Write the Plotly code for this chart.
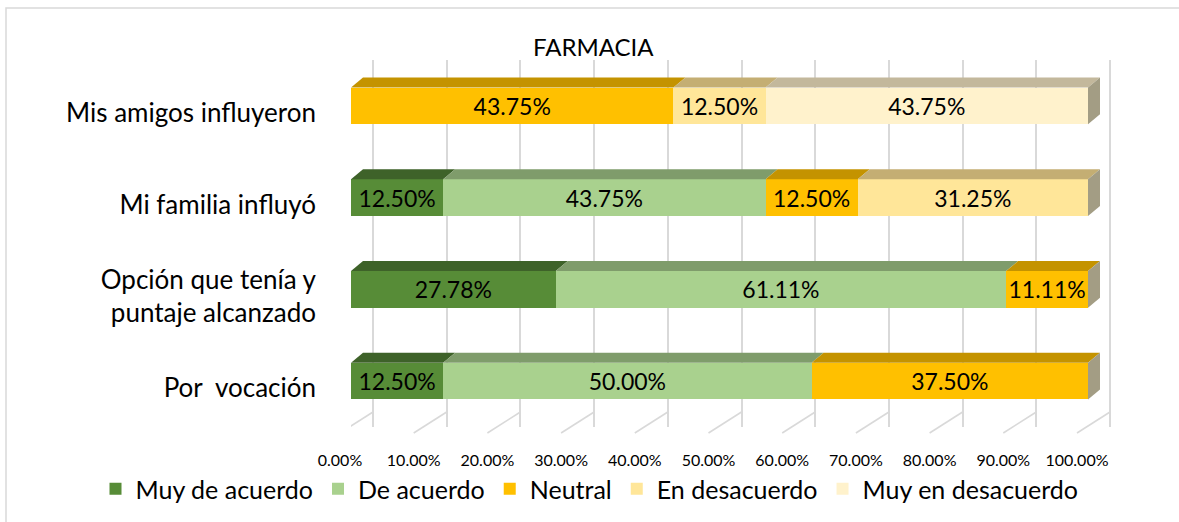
import plotly.graph_objects as go

# ---------------- data ----------------
categories = ["Por  vocación", "Opción que tenía y<br>puntaje alcanzado", "Mi familia influyó", "Mis amigos influyeron"]
series_names = ["Muy de acuerdo", "De acuerdo", "Neutral", "En desacuerdo", "Muy en desacuerdo"]
muy_de_acuerdo = [12.50, 27.78, 12.50, 0.0]
de_acuerdo = [50.00, 61.11, 43.75, 0.0]
neutral = [37.50, 11.11, 12.50, 43.75]
en_desacuerdo = [0.0, 0.0, 31.25, 12.50]
muy_en_desacuerdo = [0.0, 0.0, 0.0, 43.75]
tick_values = [0, 10, 20, 30, 40, 50, 60, 70, 80, 90, 100]
tick_labels = ["0.00%", "10.00%", "20.00%", "30.00%", "40.00%", "50.00%",
               "60.00%", "70.00%", "80.00%", "90.00%", "100.00%"]
title_text = "FARMACIA"

# ---------------- style ----------------
front_colors = ["#578c37", "#a9d18e", "#ffc000", "#ffe699", "#fff2cc"]
top_colors = ["#3e6229", "#7f9c6b", "#c49300", "#c4ae73", "#c3b89c"]
side_color = "#a39d84"
FONT = "Lato"

W, H = 1179, 522
x_left_px, x_right_px = 351, 1088
px_per_unit = (x_right_px - x_left_px) / 100.0
extra_units = 6
dom_right_px = x_right_px + extra_units * px_per_unit
plot_top_px, plot_bot_px = 60, 427
bar_w = 0.4
depth_x = 12 / px_per_unit           # top-face depth in data units
cat_px = (plot_bot_px - plot_top_px) / 4.0
depth_y = 10 / cat_px

all_series = [muy_de_acuerdo, de_acuerdo, neutral, en_desacuerdo, muy_en_desacuerdo]
ypos = list(range(len(categories)))

fig = go.Figure()

# 3D top faces (derived from the cumulative data)
cum = [0.0] * len(categories)
for s, vals in enumerate(all_series):
    for i, v in enumerate(vals):
        if v <= 0:
            continue
        x0, x1 = cum[i], cum[i] + v
        yb = ypos[i] + bar_w / 2
        fig.add_trace(go.Scatter(
            x=[x0, x1, x1 + depth_x, x0 + depth_x, x0],
            y=[yb, yb, yb + depth_y, yb + depth_y, yb],
            fill="toself", fillcolor=top_colors[s], mode="lines",
            line=dict(width=0), showlegend=False, hoverinfo="skip"))
        cum[i] += v
# right side faces
for i in range(len(categories)):
    xe = cum[i]
    fig.add_trace(go.Scatter(
        x=[xe, xe, xe + depth_x, xe + depth_x, xe],
        y=[ypos[i] - bar_w / 2, ypos[i] + bar_w / 2, ypos[i] + bar_w / 2 + depth_y,
           ypos[i] - bar_w / 2 + depth_y, ypos[i] - bar_w / 2],
        fill="toself", fillcolor=side_color, mode="lines",
        line=dict(width=0), showlegend=False, hoverinfo="skip"))

# front faces: stacked bars
for s, vals in enumerate(all_series):
    fig.add_trace(go.Bar(
        name=series_names[s], y=ypos, x=vals, orientation="h",
        width=bar_w, marker=dict(color=front_colors[s], line=dict(width=0)),
        text=[f"{v:.2f}%" if v > 0 else "" for v in vals],
        textposition="inside", insidetextanchor="middle", constraintext="none",
        textfont=dict(family=FONT, size=23, color="#000000"),
        hoverinfo="skip"))

back_shift = 22 / px_per_unit
floor_dx = -33 / px_per_unit
wall_top_px, wall_bot_px, floor_px = 42, 412, 433

fig.update_layout(
    width=W, height=H, barmode="stack", bargap=0.6,
    paper_bgcolor="white", plot_bgcolor="rgba(0,0,0,0)",
    margin=dict(l=0, r=0, t=0, b=0, autoexpand=False),
    font=dict(family=FONT, color="#000000"),
    showlegend=True,
    legend=dict(orientation="h", x=0.5, xanchor="center", y=1 - 489 / H, yanchor="middle",
                font=dict(family=FONT, size=25, color="#000000"),
                traceorder="normal", itemwidth=30, bgcolor="rgba(0,0,0,0)"),
    xaxis=dict(domain=[x_left_px / W, dom_right_px / W], range=[0, 100 + extra_units],
               showgrid=False, zeroline=False, showline=False, automargin=False,
               tickvals=tick_values, ticktext=tick_labels,
               tickfont=dict(family=FONT, size=16, color="#000000"),
               ticklabelshift=-11, ticklabelstandoff=22, anchor="y"),
    yaxis=dict(domain=[1 - plot_bot_px / H, 1 - plot_top_px / H], range=[-0.5, 3.5],
               showgrid=False, zeroline=False, showline=False, automargin=False,
               tickvals=ypos, ticktext=categories,
               tickfont=dict(family=FONT, size=26, color="#000000"),
               ticklabelstandoff=34, ticklabelshift=7, anchor="x"),
    xaxis2=dict(domain=[x_left_px / W, dom_right_px / W], overlaying="x",
                range=[0 - back_shift, 100 + extra_units - back_shift], anchor="y2",
                tickvals=tick_values, showticklabels=False, automargin=False,
                showgrid=True, gridcolor="#d9d9d9", gridwidth=1.6,
                zeroline=False, showline=False),
    yaxis2=dict(domain=[1 - wall_bot_px / H, 1 - wall_top_px / H], range=[0, 1],
                showticklabels=False, showgrid=False, zeroline=False, anchor="x2",
                overlaying="y", automargin=False),
)
fig.add_trace(go.Scatter(x=[None], y=[None], xaxis="x2", yaxis="y2", showlegend=False))

# floor diagonal lines from back wall to front
for t in tick_values:
    fig.add_shape(type="line", xref="x", yref="paper",
                  x0=t + back_shift, y0=1 - wall_bot_px / H,
                  x1=t + back_shift + floor_dx, y1=1 - floor_px / H,
                  line=dict(color="#d9d9d9", width=1.6), layer="below")

# outer chart border
fig.add_shape(type="rect", xref="paper", yref="paper", x0=6 / W, y0=-0.05, x1=1.05, y1=1 - 8 / H,
              line=dict(color="#d9d9d9", width=1.5), layer="below")

fig.add_annotation(text=title_text, xref="paper", yref="paper", x=594 / W, y=1 - 47 / H,
                   showarrow=False, font=dict(family=FONT, size=24, color="#000000"),
                   xanchor="center", yanchor="middle")

fig.write_html("out.html", config={"displayModeBar": False},
               post_script="document.body.style.margin='0px';")
